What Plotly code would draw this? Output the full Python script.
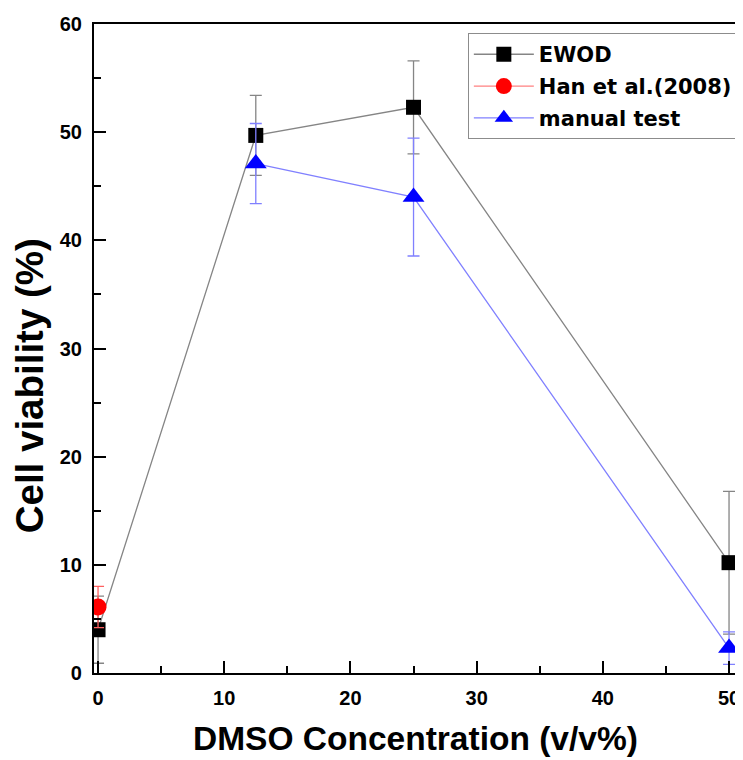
import plotly.graph_objects as go

# Data
ewod_x = [0, 12.5, 25, 50]
ewod_y = [4.0, 49.7, 52.3, 10.2]
ewod_err = [3.1, 3.7, 4.3, 6.6]

han_x = [0]
han_y = [6.1]
han_err = [1.9]

manual_x = [12.5, 25, 50]
manual_y = [47.1, 44.0, 2.3]
manual_err = [3.7, 5.45, 1.5]

x_ticks = [0, 10, 20, 30, 40, 50]
y_ticks = [0, 10, 20, 30, 40, 50, 60]

x_title = "DMSO Concentration (v/v%)"
y_title = "Cell viability (%)"

fig = go.Figure()

fig.add_trace(go.Scatter(
    x=ewod_x, y=ewod_y, name="EWOD", mode="lines+markers", legendgroup="a",
    line=dict(color="#858585", width=1.3),
    marker=dict(symbol="square", size=15, color="black"),
    error_y=dict(type="data", array=ewod_err, color="#858585", thickness=1.3, width=6),
))
fig.add_trace(go.Scatter(
    x=han_x, y=han_y, name="Han et al.(2008)", mode="lines+markers", legendgroup="b",
    line=dict(color="#ff8080", width=1.3),
    marker=dict(symbol="circle", size=17, color="#ff0000"),
    error_y=dict(type="data", array=han_err, color="#ff6060", thickness=1.3, width=6),
))
fig.add_trace(go.Scatter(
    x=manual_x, y=manual_y, name="manual test", mode="lines+markers", legendgroup="c",
    line=dict(color="#8080ff", width=1.3),
    marker=dict(symbol="triangle-up", size=19, color="#0000ff"),
    error_y=dict(type="data", array=manual_err, color="#8080ff", thickness=1.3, width=6),
))

font_family = "Liberation Sans, Arial, sans-serif"

# page body has an 8px margin, so the figure is sized to fit the window
fig.update_layout(
    width=735, height=752,
    margin=dict(l=86, r=2, t=16, b=87),
    paper_bgcolor="white", plot_bgcolor="white",
    font=dict(family=font_family, color="black"),
    showlegend=True,
    legend=dict(
        x=0.5796, y=0.986, xanchor="left", yanchor="top",
        bordercolor="#8c8c8c", borderwidth=1, bgcolor="white",
        font=dict(size=21, family="DejaVu Sans", weight="bold"),
        tracegroupgap=1.5, itemwidth=60,
    ),
    annotations=[
        dict(text=x_title, xref="paper", yref="paper", x=0.4985, y=-0.1015,
             xanchor="center", yanchor="middle", showarrow=False,
             font=dict(size=33.5, family=font_family, weight="bold", color="black")),
        dict(text=y_title, xref="paper", yref="paper", x=-0.1005, y=0.442,
             xanchor="center", yanchor="middle", showarrow=False, textangle=-90,
             font=dict(size=38.5, family=font_family, weight="bold", color="black")),
    ],
)

fig.update_xaxes(
    range=[-0.32, 50.79], tickmode="array", tickvals=x_ticks,
    ticks="inside", ticklen=12, tickwidth=2, tickcolor="black",
    minor=dict(ticks="inside", ticklen=7, tickwidth=2, dtick=5, tick0=0, tickcolor="black"),
    showline=True, linecolor="black", linewidth=2.2, mirror=True,
    showgrid=False, zeroline=False, ticklabelstandoff=6,
    tickfont=dict(size=20, family=font_family, weight="bold"),
)
fig.update_yaxes(
    range=[0, 60], tickmode="array", tickvals=y_ticks,
    ticks="inside", ticklen=12, tickwidth=2, tickcolor="black",
    minor=dict(ticks="inside", ticklen=7, tickwidth=2, dtick=5, tick0=0, tickcolor="black"),
    showline=True, linecolor="black", linewidth=2.2, mirror=True,
    showgrid=False, zeroline=False, ticklabelstandoff=6,
    tickfont=dict(size=20, family=font_family, weight="bold"),
)

fig.write_html("out.html")
